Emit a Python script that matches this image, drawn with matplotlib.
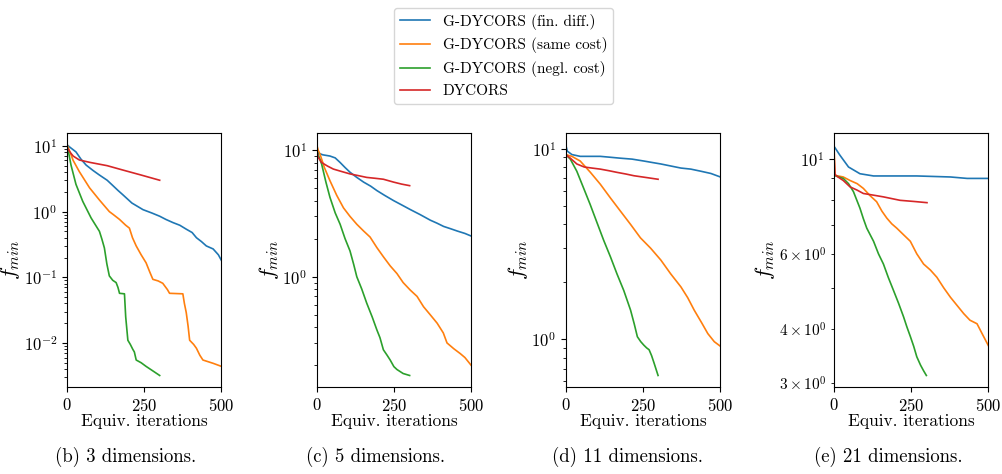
import numpy as np
import matplotlib
matplotlib.use("Agg")
import matplotlib.pyplot as plt

plt.rcParams["font.family"] = "serif"
plt.rcParams["font.serif"] = ["cmr10", "DejaVu Serif"]
plt.rcParams["mathtext.fontset"] = "cm"
plt.rcParams["axes.unicode_minus"] = False
plt.rcParams["axes.formatter.use_mathtext"] = True
plt.rcParams["font.size"] = 11

labels = ["G-DYCORS (fin. diff.)", "G-DYCORS (same cost)",
          "G-DYCORS (negl. cost)", "DYCORS"]
colors = ["#1f77b4", "#ff7f0e", "#2ca02c", "#d62728"]
captions = ["(b) 3 dimensions.", "(c) 5 dimensions.",
            "(d) 11 dimensions.", "(e) 21 dimensions."]

# (b) 3 dimensions
b_blue_x = [0, 10, 29, 45, 62, 85, 105, 130, 148, 165, 181, 210, 246, 275, 300,
            320, 343, 365, 386, 405, 419, 435, 451, 473, 490, 500]
b_blue_y = [10.4, 9.5, 8.1, 6.3, 5.1, 4.2, 3.6, 3.0, 2.5, 2.1, 1.8, 1.35, 1.07,
            0.95, 0.85, 0.76, 0.68, 0.62, 0.54, 0.48, 0.40, 0.35, 0.30, 0.27,
            0.22, 0.18]
b_orange_x = [0, 10, 20, 40, 73, 105, 137, 150, 170, 190, 202, 212, 224, 240,
              256, 268, 278, 295, 310, 325, 332, 375, 380, 386, 392, 397, 410,
              419, 430, 440, 473, 500]
b_orange_y = [10.5, 8.0, 6.0, 4.05, 2.3, 1.5, 1.0, 0.9, 0.76, 0.62, 0.56, 0.40,
              0.30, 0.22, 0.166, 0.12, 0.093, 0.088, 0.081, 0.065, 0.057, 0.056,
              0.04, 0.029, 0.018, 0.011, 0.0095, 0.0083, 0.0065, 0.0055, 0.0049,
              0.0044]
b_green_x = [0, 5, 13, 29, 51, 78, 105, 113, 121, 129, 137, 148, 159, 165, 170,
             186, 190, 197, 205, 213, 218, 224, 240, 256, 280, 300]
b_green_y = [10.2, 8.0, 5.1, 2.6, 1.43, 0.8, 0.5, 0.38, 0.28, 0.16, 0.105, 0.09,
             0.083, 0.07, 0.057, 0.056, 0.025, 0.011, 0.0095, 0.008, 0.0073,
             0.0055, 0.005, 0.0044, 0.0037, 0.0032]
b_red_x = [0, 10, 20, 40, 75, 130, 180, 240, 300]
b_red_y = [9.5, 8.0, 7.0, 6.1, 5.6, 5.0, 4.3, 3.6, 3.0]

# (c) 5 dimensions
c_blue_x = [0, 20, 43, 60, 76, 92, 108, 130, 152, 175, 195, 220, 249, 275, 303,
            335, 368, 390, 411, 433, 455, 480, 500]
c_blue_y = [9.6, 9.2, 9.0, 8.7, 8.0, 7.3, 6.7, 6.1, 5.6, 5.2, 4.8, 4.4, 4.0, 3.7,
            3.4, 3.1, 2.8, 2.65, 2.5, 2.4, 2.3, 2.2, 2.1]
c_orange_x = [0, 5, 11, 25, 43, 65, 87, 108, 130, 152, 173, 195, 216, 238, 260,
              280, 303, 325, 346, 368, 390, 410, 422, 444, 465, 480, 500]
c_orange_y = [11.1, 10.0, 9.3, 7.3, 5.75, 4.4, 3.5, 3.0, 2.6, 2.3, 2.06, 1.7,
              1.44, 1.22, 1.06, 0.9, 0.785, 0.7, 0.58, 0.5, 0.43, 0.36, 0.30,
              0.27, 0.247, 0.23, 0.20]
c_green_x = [0, 8, 16, 30, 43, 60, 76, 92, 108, 120, 130, 146, 162, 180, 195,
             205, 216, 228, 238, 250, 260, 280, 301]
c_green_y = [10.0, 8.8, 7.8, 5.6, 4.25, 3.2, 2.6, 2.0, 1.6, 1.25, 1.0, 0.8, 0.62,
             0.48, 0.38, 0.33, 0.265, 0.24, 0.22, 0.195, 0.185, 0.172, 0.166]
c_red_x = [0, 5, 16, 35, 54, 80, 108, 135, 162, 190, 216, 249, 275, 301]
c_red_y = [10.2, 8.8, 8.0, 7.5, 7.1, 6.8, 6.5, 6.3, 6.1, 6.0, 5.9, 5.6, 5.4, 5.25]

# (d) 11 dimensions
d_blue_x = [0, 5, 20, 47, 80, 112, 145, 177, 215, 253, 280, 308, 340, 373, 405,
            438, 470, 500]
d_blue_y = [10.5, 9.7, 9.3, 9.1, 9.1, 9.1, 9.0, 8.9, 8.8, 8.6, 8.45, 8.3, 8.1,
            7.9, 7.8, 7.6, 7.4, 7.1]
d_orange_x = [0, 20, 47, 80, 112, 145, 177, 210, 242, 275, 308, 340, 373, 395,
              416, 440, 460, 481, 500]
d_orange_y = [9.3, 9.1, 8.6, 7.5, 6.5, 5.5, 4.7, 4.0, 3.4, 3.0, 2.6, 2.2, 1.88,
              1.65, 1.42, 1.22, 1.07, 0.97, 0.92]
d_green_x = [0, 15, 36, 58, 79, 101, 123, 145, 166, 188, 210, 222, 232, 243, 253,
             262, 270, 278, 286, 299]
d_green_y = [9.3, 8.8, 7.6, 6.2, 5.1, 4.1, 3.3, 2.7, 2.2, 1.8, 1.42, 1.2, 1.03,
             0.97, 0.93, 0.9, 0.88, 0.82, 0.75, 0.645]
d_red_x = [0, 15, 36, 60, 85, 112, 140, 166, 195, 221, 260, 299]
d_red_y = [9.3, 8.9, 8.3, 8.0, 7.9, 7.8, 7.65, 7.5, 7.35, 7.2, 7.05, 6.9]

# (e) 21 dimensions
e_blue_x = [0, 19, 47, 84, 128, 268, 377, 431, 500]
e_blue_y = [10.7, 10.2, 9.57, 9.23, 9.12, 9.12, 9.07, 9.0, 9.0]
e_orange_x = [0, 3, 30, 52, 75, 95, 117, 138, 155, 171, 187, 203, 225, 247, 268,
              290, 312, 333, 355, 377, 398, 420, 440, 463, 480, 500]
e_orange_y = [10.8, 9.15, 9.07, 8.9, 8.75, 8.53, 8.2, 7.94, 7.55, 7.27, 7.05,
              6.89, 6.65, 6.42, 6.0, 5.68, 5.5, 5.29, 5.0, 4.75, 4.55, 4.35, 4.2,
              4.12, 3.9, 3.66]
e_green_x = [0, 30, 47, 63, 74, 84, 95, 106, 117, 128, 144, 160, 176, 193, 209,
             225, 236, 247, 258, 268, 280, 290, 299]
e_green_y = [9.15, 9.0, 8.75, 8.38, 8.0, 7.67, 7.25, 6.89, 6.65, 6.42, 6.0, 5.68,
             5.28, 4.92, 4.6, 4.28, 4.05, 3.85, 3.65, 3.45, 3.3, 3.2, 3.12]
e_red_x = [0, 3, 10, 30, 52, 75, 95, 130, 160, 214, 260, 301]
e_red_y = [10.3, 9.2, 9.1, 8.9, 8.6, 8.45, 8.3, 8.22, 8.15, 8.0, 7.95, 7.9]

panels = [
    [(b_blue_x, b_blue_y), (b_orange_x, b_orange_y), (b_green_x, b_green_y), (b_red_x, b_red_y)],
    [(c_blue_x, c_blue_y), (c_orange_x, c_orange_y), (c_green_x, c_green_y), (c_red_x, c_red_y)],
    [(d_blue_x, d_blue_y), (d_orange_x, d_orange_y), (d_green_x, d_green_y), (d_red_x, d_red_y)],
    [(e_blue_x, e_blue_y), (e_orange_x, e_orange_y), (e_green_x, e_green_y), (e_red_x, e_red_y)],
]

fig = plt.figure(figsize=(10.03, 4.74), dpi=100)
lefts = [0.0668, 0.3157, 0.564, 0.8315]
caption_x = [0.125, 0.374, 0.626, 0.886]

for i, series in enumerate(panels):
    ax = fig.add_axes([lefts[i], 0.1835, 0.154, 0.536])
    for (x, y), c, lab in zip(series, colors, labels):
        ax.plot(x, y, color=c, lw=1.2, label=lab)
    ax.set_yscale("log")
    ax.set_xlim(0, 500)
    ax.set_xticks([0, 250, 500])
    ax.tick_params(labelsize=12)
    ax.set_xlabel("Equiv. iterations", fontsize=12.5, labelpad=0)
    ax.set_ylabel("$f_{min}$", fontsize=16, labelpad=1)
    fig.text(caption_x[i], 0.035, captions[i], ha="center", va="center", fontsize=13.5)
    if i == 0:
        handles, labs = ax.get_legend_handles_labels()

fig.legend(handles, labs, loc="upper center", bbox_to_anchor=(0.502, 1.0),
           frameon=True, fontsize=11)

fig.savefig("out.png", dpi=100)
